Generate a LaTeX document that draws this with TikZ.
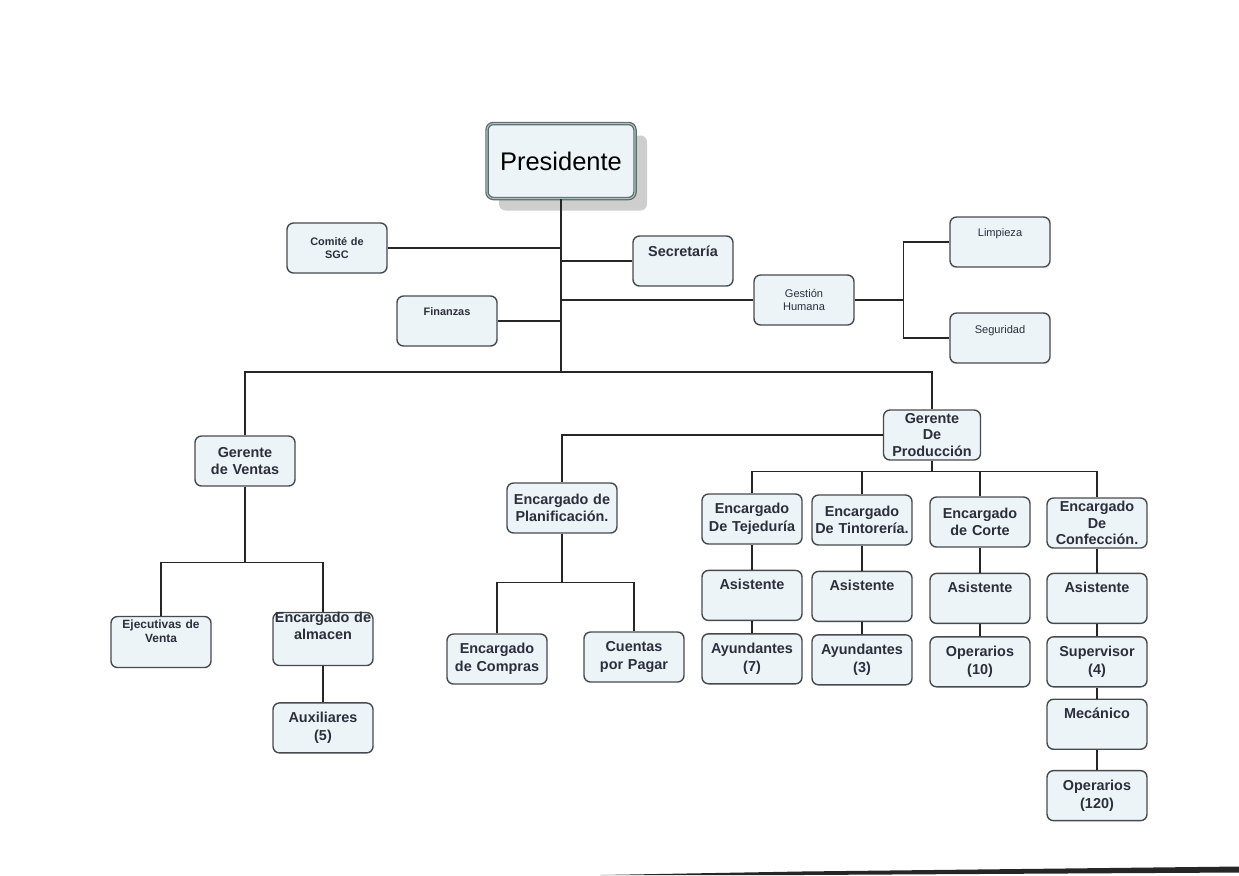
\documentclass[tikz,border=0pt]{standalone}
\usepackage{fontspec}
\setmainfont{Liberation Sans}
\usepackage{tikz}
\usetikzlibrary{positioning, shadows}
\definecolor{boxfill}{RGB}{236,244,247}
\definecolor{boxline}{RGB}{70,74,78}
\definecolor{presline}{RGB}{88,108,108}
\definecolor{inkgray}{RGB}{44,46,60}
\definecolor{linkgray}{RGB}{38,38,38}
\definecolor{shadowgray}{RGB}{206,206,206}
\tikzset{
  orgbox/.style={
    rectangle, rounded corners=1.3mm,
    draw=boxline, line width=0.8pt,
    fill=boxfill, text=inkgray,
    minimum height=10mm, minimum width=20mm,
    text width=20mm, align=center, inner sep=0pt,
    font=\bfseries\fontsize{8.2}{10}\selectfont
  },
  orgbox-tight/.style={orgbox, font=\bfseries\fontsize{8.2}{9.4}\selectfont},
  orgbox-small/.style={orgbox, font=\fontsize{6.3}{7.4}\selectfont},
  orgbox-smallbf/.style={orgbox, font=\bfseries\fontsize{6.2}{7.4}\selectfont},
  orgbox-venta/.style={orgbox, font=\bfseries\fontsize{6.8}{8.2}\selectfont},
  presbox/.style={
    orgbox, minimum width=29.6mm, text width=29.6mm, minimum height=15mm,
    draw=presline, line width=0.7pt,
    double=white!55!presline, double distance=0.6pt,
    font=\fontsize{14.5}{17}\selectfont, text=black,
    drop shadow={shadow xshift=2.4mm, shadow yshift=-2.4mm, fill=shadowgray, opacity=1}
  },
  toptext/.style 2 args={text height=#1, text depth=#2},
  orglink/.style={draw=linkgray, line width=0.7pt}
}
\begin{document}
\begin{tikzpicture}[x=0.2mm, y=-0.2mm, node distance=2.4mm]
  \useasboundingbox (0,0) rectangle (1239,875);

  % direccion
  \node[presbox] (pres) at (561,161) {Presidente};
  \node[orgbox-smallbf] (comite) at (337,248) {Comité de\\SGC};
  \node[orgbox, toptext={4mm}{6mm}] (secre) at (683,261) {Secretaría};
  \node[orgbox-smallbf, toptext={3.9mm}{6.1mm}] (finan) at (447,321) {Finanzas};
  \node[orgbox-small] (gest) at (804,300) {Gestión\\Humana};
  \node[orgbox-small, toptext={3.9mm}{6.1mm}] (limp) at (1000,242) {Limpieza};
  \node[orgbox-small, toptext={4.1mm}{5.9mm}] (segu) at (1000,338) {Seguridad};

  % ventas
  \node[orgbox] (gv) at (245,461) {Gerente\\de Ventas};
  \node[orgbox-venta, toptext={2.4mm}{7.8mm}] (ejec) at (161,642) {Ejecutivas de\\Venta};
  \node[orgbox, toptext={1.9mm}{8.7mm}] (alm) at (323,639) {Encargado de\\almacen};
  \node[orgbox, below=7.2mm of alm] (aux) {Auxiliares\\(5)};

  % produccion
  \node[orgbox-tight, minimum width=19.4mm, text width=19.4mm] (gp) at (932,435) {Gerente\\De\\Producción};
  \node[orgbox, minimum width=22mm, text width=22mm] (planif) at (562,508) {Encargado de\\Planificación.};
  \node[orgbox] (compras) at (497,659) {Encargado\\de Compras};
  \node[orgbox] (cuentas) at (634,657) {Cuentas\\por Pagar};

  \node[orgbox] (tej) at (752,519) {Encargado\\De Tejeduría};
  \node[orgbox, toptext={3.8mm}{6.2mm}, below=5mm of tej] (asis1) {Asistente};
  \node[orgbox, below=of asis1] (ayu1) {Ayundantes\\(7)};

  \node[orgbox] (tin) at (862,520) {Encargado\\De Tintorería.};
  \node[orgbox, toptext={3.8mm}{6.2mm}, below=5mm of tin] (asis2) {Asistente};
  \node[orgbox, below=of asis2] (ayu2) {Ayundantes\\(3)};

  \node[orgbox] (corte) at (980,522) {Encargado\\de Corte};
  \node[orgbox, toptext={3.8mm}{6.2mm}, below=5mm of corte] (asis3) {Asistente};
  \node[orgbox, below=of asis3] (ope1) {Operarios\\(10)};

  \node[orgbox-tight] (con) at (1097,523) {Encargado\\De\\Confección.};
  \node[orgbox, toptext={3.8mm}{6.2mm}, below=4.8mm of con] (asis4) {Asistente};
  \node[orgbox, below=of asis4] (sup) {Supervisor\\(4)};
  \node[orgbox, toptext={3.8mm}{6.2mm}, below=2.2mm of sup] (mec) {Mecánico};
  \node[orgbox, below=4mm of mec] (ope2) {Operarios\\(120)};

  % conectores
  \coordinate (bus) at (561,372);
  \draw[orglink] (pres) -- (bus);
  \draw[orglink] (comite) -- (comite -| pres);
  \draw[orglink] (secre) -- (secre -| pres);
  \draw[orglink] (gest) -- (gest -| pres);
  \draw[orglink] (finan) -- (finan -| pres);
  \draw[orglink] (gest.east) -- ++(9.8mm,0) coordinate (gsplit);
  \draw[orglink] (limp.west) -| (gsplit) |- (segu.west);

  \draw[orglink] (gv.north) |- (bus) -| (gp.north);
  \draw[orglink] (gv.south) -- ++(0,-15.2mm) coordinate (gvsplit);
  \draw[orglink] (ejec.north) |- (gvsplit) -| (alm.north);
  \draw[orglink] (alm) -- (aux);

  \draw[orglink] (gp.west) -| (planif.north);
  \draw[orglink] (planif.south) -- ++(0,-9.8mm) coordinate (plsplit);
  \draw[orglink] (compras.north) |- (plsplit) -| (cuentas.north);

  \draw[orglink] (gp.south) -- ++(0,-2.2mm) coordinate (gpsplit);
  \draw[orglink] (tej.north) |- (gpsplit) -| (con.north);
  \draw[orglink] (tin.north) -- (tin.north |- gpsplit);
  \draw[orglink] (corte.north) -- (corte.north |- gpsplit);
  \draw[orglink] (tej) -- (asis1) -- (ayu1);
  \draw[orglink] (tin) -- (asis2) -- (ayu2);
  \draw[orglink] (corte) -- (asis3) -- (ope1);
  \draw[orglink] (con) -- (asis4) -- (sup) -- (mec) -- (ope2);

  % borde de la hoja
  \fill[black!85] (600,875) -- (800,871.5) -- (1239,866.5) -- (1239,872.5) -- (800,875) -- cycle;
\end{tikzpicture}
\end{document}
